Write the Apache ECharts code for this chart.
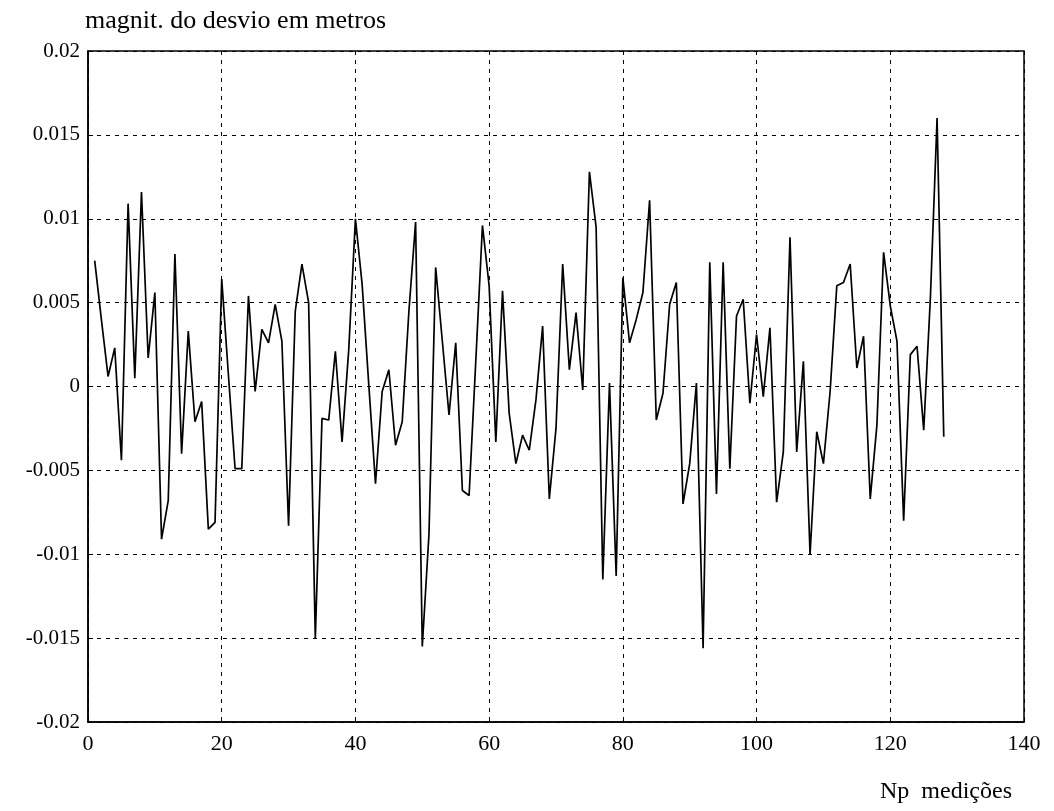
<!DOCTYPE html>
<html>
<head>
<meta charset="utf-8">
<script src="https://cdn.jsdelivr.net/npm/echarts@6/dist/echarts.min.js"></script>
<style>
  html, body { margin: 0; padding: 0; background: #ffffff; }
  #chart { width: 1054px; height: 811px; }
</style>
</head>
<body>
<div id="chart"></div>
<script>
// Measurement index (Np medições)
const medicoes = [];
for (let i = 1; i <= 128; i++) medicoes.push(i);

// Deviation magnitude in metres
const desvio = [
  0.0075, 0.0040, 0.0006, 0.0023, -0.0044, 0.0109, 0.0005, 0.0116, 0.0017, 0.0056,
  -0.0091, -0.0068, 0.0079, -0.0040, 0.0033, -0.0021, -0.0009, -0.0085, -0.0081, 0.0064,
  0.0007, -0.0049, -0.0049, 0.0054, -0.0003, 0.0034, 0.0026, 0.0049, 0.0027, -0.0083,
  0.0045, 0.0073, 0.0050, -0.0150, -0.0019, -0.0020, 0.0021, -0.0033, 0.0022, 0.0100,
  0.0061, 0.0001, -0.0058, -0.0003, 0.0010, -0.0035, -0.0021, 0.0045, 0.0098, -0.0155,
  -0.0088, 0.0071, 0.0027, -0.0017, 0.0026, -0.0062, -0.0065, 0.0015, 0.0096, 0.0060,
  -0.0033, 0.0057, -0.0016, -0.0046, -0.0029, -0.0038, -0.0008, 0.0036, -0.0067, -0.0025,
  0.0073, 0.0010, 0.0044, -0.0002, 0.0128, 0.0095, -0.0115, 0.0002, -0.0113, 0.0065,
  0.0026, 0.0040, 0.0056, 0.0111, -0.0020, -0.0004, 0.0049, 0.0062, -0.0070, -0.0046,
  0.0002, -0.0156, 0.0074, -0.0064, 0.0074, -0.0049, 0.0042, 0.0052, -0.0010, 0.0031,
  -0.0006, 0.0035, -0.0069, -0.0039, 0.0089, -0.0039, 0.0015, -0.0100, -0.0027, -0.0046,
  -0.0003, 0.0060, 0.0062, 0.0073, 0.0011, 0.0030, -0.0067, -0.0023, 0.0080, 0.0048,
  0.0027, -0.0080, 0.0019, 0.0024, -0.0026, 0.0053, 0.0160, -0.0030
];

const xTicks = [0, 20, 40, 60, 80, 100, 120, 140];
const yTicks = [-0.02, -0.015, -0.01, -0.005, 0, 0.005, 0.01, 0.015, 0.02];

const yLabel = 'magnit. do desvio em metros';
const xLabel = 'Np  medições';

const chart = echarts.init(document.getElementById('chart'), null, { renderer: 'canvas' });
const font = '"Liberation Serif", "DejaVu Serif", serif';

chart.setOption({
  backgroundColor: '#ffffff',
  animation: false,
  grid: {
    left: 88, right: 30, top: 51, bottom: 89,
    show: true, borderColor: '#000', borderWidth: 1.5, backgroundColor: 'transparent'
  },
  xAxis: {
    type: 'value',
    min: xTicks[0], max: xTicks[xTicks.length - 1], interval: 20,
    name: xLabel,
    nameLocation: 'end',
    nameGap: -12,
    nameTextStyle: {
      fontFamily: font, fontSize: 24, color: '#000',
      align: 'right', verticalAlign: 'top', padding: [58, 0, 0, 0]
    },
    axisLine: { show: true, onZero: false, lineStyle: { color: '#000', width: 1.5 } },
    axisTick: { show: true, inside: true, length: 5, lineStyle: { color: '#000' } },
    axisLabel: { fontFamily: font, fontSize: 22, color: '#000', margin: 11 },
    splitLine: { show: true, lineStyle: { color: '#000', width: 1, type: [4, 5] } }
  },
  yAxis: {
    type: 'value',
    min: yTicks[0], max: yTicks[yTicks.length - 1], interval: 0.005,
    name: yLabel,
    nameLocation: 'end',
    nameGap: 17,
    nameTextStyle: {
      fontFamily: font, fontSize: 26, color: '#000', align: 'left', padding: [0, 0, 0, -3]
    },
    axisLine: { show: true, onZero: false, lineStyle: { color: '#000', width: 1.5 } },
    axisTick: { show: true, inside: true, length: 5, lineStyle: { color: '#000' } },
    axisLabel: {
      fontFamily: font, fontSize: 21, color: '#000', margin: 8,
      formatter: v => String(+v.toFixed(3))
    },
    splitLine: { show: true, lineStyle: { color: '#000', width: 1, type: [4, 5] } }
  },
  series: [{
    type: 'line',
    data: medicoes.map((m, i) => [m, desvio[i]]),
    showSymbol: false,
    lineStyle: { color: '#000', width: 1.7 },
    z: 3
  }]
});
</script>
</body>
</html>
